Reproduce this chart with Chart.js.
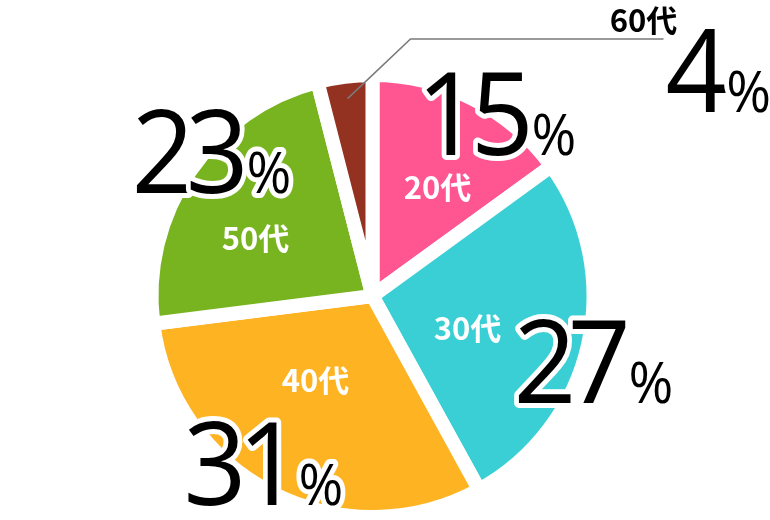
<!DOCTYPE html>
<html>
<head>
<meta charset="utf-8">
<script src="https://cdn.jsdelivr.net/npm/chart.js@4.4.1/dist/chart.umd.min.js"></script>
<style>
  html, body { margin: 0; padding: 0; background: #fff; }
  #wrap { width: 770px; height: 520px; }
</style>
</head>
<body>
<div id="wrap"><canvas id="pieChart"></canvas></div>
<script>
// data
var ageLabels = ["20代", "30代", "40代", "50代", "60代"];
var shares = [15, 27, 31, 23, 4];
var sliceColors = ["#FF5692", "#39CFD5", "#FDB322", "#78B320", "#933220"];

// label layout: offsets (px) from the pie centre
var agePos = [[65, -109], [95, 32], [-57, 84], [-117, -58], [271, -276]];
var pctPos = [[44, -141], [141, 107], [-189, 209], [-241, -103], [293, -184]];

var BIG_FONT = '116px "Open Sans", "Noto Sans", sans-serif';
var PCT_FONT = '57px "Open Sans", "Noto Sans", sans-serif';
var AGE_FONT = 'bold 31px "Noto Sans CJK JP", "Noto Sans", sans-serif';

function drawBig(ctx, num, x, y) {
    ctx.save();
    ctx.translate(x, y);
    ctx.scale(0.95, 1);
    ctx.lineJoin = 'round';
    ctx.lineWidth = 10;
    ctx.strokeStyle = '#fff';
    ctx.fillStyle = '#000';
    ctx.textAlign = 'left';
    ctx.textBaseline = 'alphabetic';
    ctx.font = BIG_FONT;
    var px = 0;
    var chars = String(num).split('');
    for (var i = 0; i < chars.length; i++) {
        ctx.strokeText(chars[i], px, 0);
        ctx.fillText(chars[i], px, 0);
        px += ctx.measureText(chars[i]).width * 0.86;
    }
    px += 7;
    ctx.font = PCT_FONT;
    ctx.strokeText('%', px, 0);
    ctx.fillText('%', px, 0);
    ctx.restore();
}

var labelPlugin = {
    id: 'sliceLabels',
    afterDatasetsDraw: function (chart) {
        var ctx = chart.ctx;
        var arcs = chart.getDatasetMeta(0).data;
        var cx = arcs[0].x, cy = arcs[0].y;
        ctx.save();

        // leader line for the smallest slice (60代)
        var last = arcs[arcs.length - 1];
        var mid = (last.startAngle + last.endAngle) / 2;
        var r = last.outerRadius * 0.9;
        var lp = agePos[agePos.length - 1];
        ctx.strokeStyle = '#7a7a7a';
        ctx.lineWidth = 1.6;
        ctx.beginPath();
        ctx.moveTo(cx + Math.cos(mid) * r, cy + Math.sin(mid) * r);
        ctx.lineTo(cx + 38, cy + lp[1] + 19);
        ctx.lineTo(cx + lp[0] + 20, cy + lp[1] + 19);
        ctx.stroke();

        // age labels
        ctx.font = AGE_FONT;
        ctx.textAlign = 'center';
        ctx.textBaseline = 'middle';
        for (var i = 0; i < ageLabels.length; i++) {
            ctx.fillStyle = i === ageLabels.length - 1 ? '#000' : '#fff';
            ctx.fillText(ageLabels[i], cx + agePos[i][0], cy + agePos[i][1]);
        }

        // big percentages
        for (var j = 0; j < shares.length; j++) {
            drawBig(ctx, shares[j], cx + pctPos[j][0], cy + pctPos[j][1]);
        }
        ctx.restore();
    }
};

var pieCtx = document.getElementById('pieChart').getContext('2d');
var pieChart = new Chart(pieCtx, {
    type: 'pie',
    data: {
        labels: ageLabels,
        datasets: [{
            data: shares,
            backgroundColor: sliceColors,
            borderColor: '#fff',
            borderWidth: 14,
            hoverOffset: 0,
            radius: 221
        }]
    },
    options: {
        responsive: true,
        maintainAspectRatio: false,
        animation: false,
        layout: { padding: { left: 1, right: 26, top: 72, bottom: 0 } },
        plugins: {
            legend: { display: false },
            tooltip: { enabled: false }
        }
    },
    plugins: [labelPlugin]
});
</script>
</body>
</html>
